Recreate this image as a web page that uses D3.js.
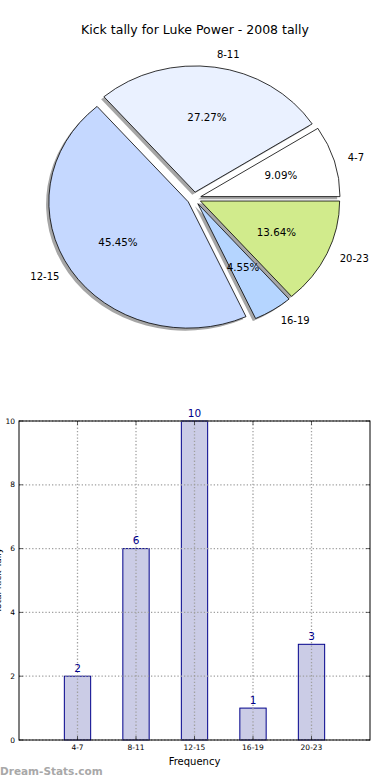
<!DOCTYPE html>
<html><head><meta charset="utf-8">
<script src="https://cdn.jsdelivr.net/npm/d3@7"></script>
<style>body{margin:0;background:#fff;} svg{display:block;font-family:"DejaVu Sans",sans-serif;}</style>
</head><body>
<svg id="c" width="390" height="780"></svg>
<script>
const categories = ["4-7","8-11","12-15","16-19","20-23"];
const values = [2,6,10,1,3];
const pieColors = ["#ffffff","#eaf1ff","#c5d8ff","#b5d5ff","#d1eb8c"];
const yTicks = [0,2,4,6,8,10];
const title = "Kick tally for Luke Power - 2008 tally";

const svg = d3.select("#c");
svg.append("text").attr("x",195).attr("y",34).attr("text-anchor","middle")
  .attr("font-size",12.5).attr("fill","#000").text(title);

// ---- Pie (elliptical, exploded, shadowed) ----
const cx=194.1, cy=198.4, rx=139.2, ry=126.2, ex=0.05;
const total = d3.sum(values);
const pie = d3.pie().sort(null).value(d=>d).startAngle(Math.PI/2).endAngle(Math.PI/2-2*Math.PI);
const arcs = pie(values);
const arc = d3.arc().innerRadius(0).outerRadius(1);
const g = svg.append("g");
function off(d){const m=(d.startAngle+d.endAngle)/2;return [Math.sin(m)*ex*rx, -Math.cos(m)*ex*ry];}
arcs.forEach((d)=>{
  const o=off(d);
  g.append("path").attr("d",arc(d))
   .attr("transform",`translate(${cx+o[0]-0.02*rx},${cy+o[1]+0.02*ry}) scale(${rx},${ry})`)
   .attr("fill","#4d4d4d").attr("fill-opacity",0.5);
});
arcs.forEach((d,i)=>{
  const o=off(d);
  g.append("path").attr("d",arc(d))
   .attr("transform",`translate(${cx+o[0]},${cy+o[1]}) scale(${rx},${ry})`)
   .attr("fill",pieColors[i]).attr("stroke","#000").attr("stroke-width",0.8)
   .attr("vector-effect","non-scaling-stroke");
});
arcs.forEach((d,i)=>{
  const o=off(d); const m=(d.startAngle+d.endAngle)/2;
  const sx=Math.sin(m), sy=-Math.cos(m);
  const lx=cx+o[0]+1.1*rx*sx, ly=cy+o[1]+1.1*ry*sy;
  g.append("text").attr("x",lx).attr("y",ly).attr("dy","0.35em")
   .attr("text-anchor", sx>0?"start":"end").attr("font-size",10).text(categories[i]);
  const px=cx+o[0]+0.6*rx*sx, py=cy+o[1]+0.6*ry*sy;
  g.append("text").attr("x",px).attr("y",py).attr("dy","0.35em")
   .attr("text-anchor","middle").attr("font-size",10.3)
   .text((values[i]/total*100).toFixed(2)+"%");
});

// ---- Bar chart ----
const L=19,R=370,T=421,B=740;
const x = d3.scaleLinear().domain([0,6]).range([L,R]);
const y = d3.scaleLinear().domain([0,10]).range([B,T]);
const bw = x(0.45)-x(0);
const bg = svg.append("g");
bg.selectAll("rect.bar").data(values).join("rect").attr("class","bar")
  .attr("x",(d,i)=>x(i+1)-bw/2).attr("y",d=>y(d)).attr("width",bw).attr("height",d=>B-y(d))
  .attr("fill","#cbcce6").attr("stroke","#00008b").attr("stroke-width",1);
const grid = bg.append("g").attr("stroke","#a0a0a0").attr("stroke-width",1.3).attr("stroke-dasharray","1.3,2");
categories.forEach((c,i)=>grid.append("line").attr("x1",x(i+1)).attr("x2",x(i+1)).attr("y1",T).attr("y2",B));
yTicks.forEach(t=>grid.append("line").attr("x1",L).attr("x2",R).attr("y1",y(t)).attr("y2",y(t)));
bg.append("rect").attr("x",L).attr("y",T).attr("width",R-L).attr("height",B-T)
  .attr("fill","none").attr("stroke","#000").attr("stroke-width",1);
yTicks.forEach(t=>{
  bg.append("line").attr("x1",L).attr("x2",L+4).attr("y1",y(t)).attr("y2",y(t)).attr("stroke","#000").attr("stroke-width",0.6);
  bg.append("line").attr("x1",R-4).attr("x2",R).attr("y1",y(t)).attr("y2",y(t)).attr("stroke","#000").attr("stroke-width",0.6);
  bg.append("text").attr("x",L-4).attr("y",y(t)).attr("dy","0.35em").attr("text-anchor","end")
    .attr("font-size",7.5).text(t);
});
categories.forEach((c,i)=>{
  bg.append("line").attr("x1",x(i+1)).attr("x2",x(i+1)).attr("y1",B).attr("y2",B-4).attr("stroke","#000").attr("stroke-width",0.6);
  bg.append("line").attr("x1",x(i+1)).attr("x2",x(i+1)).attr("y1",T).attr("y2",T+4).attr("stroke","#000").attr("stroke-width",0.6);
  bg.append("text").attr("x",x(i+1)).attr("y",B+10).attr("text-anchor","middle").attr("font-size",7.5).text(c);
});
values.forEach((v,i)=>{
  bg.append("text").attr("x",x(i+1)).attr("y",y(v)-4.5).attr("text-anchor","middle")
    .attr("font-size",10.5).attr("fill","#00008b").text(v);
});
bg.append("text").attr("x",(L+R)/2).attr("y",765).attr("text-anchor","middle").attr("font-size",10).text("Frequency");
bg.append("text").attr("transform",`translate(1,${(T+B)/2}) rotate(-90)`).attr("text-anchor","middle")
  .attr("font-size",9).text("Total Kick Tally");
svg.append("text").attr("x",0).attr("y",775).attr("font-size",10.5).attr("font-weight","bold")
  .attr("fill","#a8a8a8").text("Dream-Stats.com");
</script>
</body></html>
